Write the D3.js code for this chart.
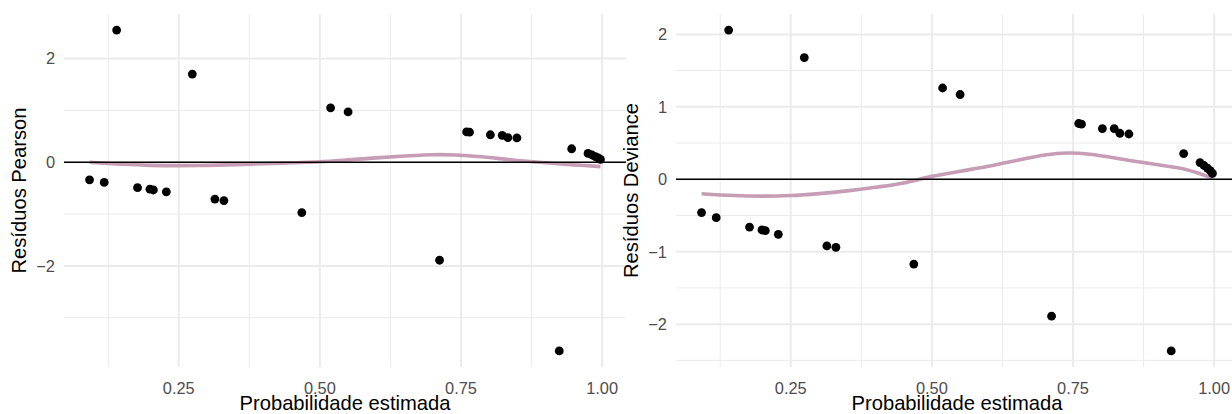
<!DOCTYPE html>
<html>
<head>
<meta charset="utf-8">
<script src="https://cdn.jsdelivr.net/npm/d3@7"></script>
<style>
  body { margin: 0; background: #fff; overflow: hidden; }
  svg { display: block; font-family: "Liberation Sans", Arial, sans-serif; }
</style>
</head>
<body>
<svg id="chart"></svg>
<script>
// probabilidade estimada (mesma para os dois painéis)
const probEstimada = [0.092, 0.118, 0.140, 0.177, 0.199, 0.205, 0.228, 0.274, 0.314, 0.330,
  0.468, 0.519, 0.550, 0.712, 0.760, 0.765, 0.802, 0.823, 0.833, 0.849,
  0.924, 0.946, 0.975, 0.982, 0.988, 0.993, 0.997];

const residPearson = [-0.34, -0.39, 2.55, -0.49, -0.52, -0.535, -0.57, 1.70, -0.71, -0.74,
  -0.97, 1.05, 0.97, -1.89, 0.585, 0.58, 0.53, 0.52, 0.475, 0.47,
  -3.64, 0.26, 0.17, 0.14, 0.11, 0.085, 0.055];

const residDeviance = [-0.46, -0.53, 2.06, -0.66, -0.70, -0.71, -0.76, 1.68, -0.92, -0.94,
  -1.17, 1.26, 1.17, -1.89, 0.77, 0.76, 0.70, 0.70, 0.635, 0.625,
  -2.37, 0.355, 0.23, 0.19, 0.155, 0.12, 0.08];

// curvas loess
const smoothX = [0.092, 0.15, 0.20, 0.25, 0.30, 0.35, 0.40, 0.45, 0.50, 0.55, 0.60, 0.65,
  0.70, 0.74, 0.78, 0.85, 0.90, 0.95, 0.997];
const smoothPearson = [0.00, -0.04, -0.06, -0.065, -0.06, -0.045, -0.03, -0.01, 0.01, 0.045,
  0.085, 0.12, 0.145, 0.14, 0.11, 0.035, -0.01, -0.05, -0.085];
const smoothDeviance = [-0.20, -0.225, -0.232, -0.225, -0.198, -0.16, -0.11, -0.05, 0.04, 0.11,
  0.18, 0.26, 0.335, 0.362, 0.345, 0.26, 0.20, 0.135, 0.015];

const xTicks = [0.25, 0.50, 0.75, 1.00];
const xMinor = [0.125, 0.375, 0.625, 0.875];
const pearsonTicks = [-2, 0, 2];
const pearsonMinor = [-3, -1, 1];
const devianceTicks = [-2, -1, 0, 1, 2];
const devianceMinor = [-2.5, -1.5, -0.5, 0.5, 1.5];

const W = 1232, H = 414;
const svg = d3.select("#chart").attr("width", W).attr("height", H);

const panelTop = 14, panelBottom = 367, panelW = 562;
const grid = "#ebebeb";
const lineColor = "#c69db4";

function expand(ext) {
  const d = (ext[1] - ext[0]) * 0.05;
  return [ext[0] - d, ext[1] + d];
}

const fmtY = v => (v < 0 ? "\u2212" + Math.abs(v) : String(v));

function painel(left, ys, smoothY, majorY, minorY, yTitle) {
  const x = d3.scaleLinear().domain(expand(d3.extent(probEstimada))).range([left, left + panelW]);
  const y = d3.scaleLinear().domain(expand(d3.extent(ys))).range([panelBottom, panelTop]);

  const g = svg.append("g");

  // grades
  g.append("g").selectAll("line").data(minorY).join("line")
    .attr("x1", left).attr("x2", left + panelW)
    .attr("y1", d => y(d)).attr("y2", d => y(d))
    .attr("stroke", grid).attr("stroke-width", 1);
  g.append("g").selectAll("line").data(xMinor).join("line")
    .attr("x1", d => x(d)).attr("x2", d => x(d))
    .attr("y1", panelTop).attr("y2", panelBottom)
    .attr("stroke", grid).attr("stroke-width", 1);
  g.append("g").selectAll("line").data(majorY).join("line")
    .attr("x1", left).attr("x2", left + panelW)
    .attr("y1", d => y(d)).attr("y2", d => y(d))
    .attr("stroke", grid).attr("stroke-width", 2);
  g.append("g").selectAll("line").data(xTicks).join("line")
    .attr("x1", d => x(d)).attr("x2", d => x(d))
    .attr("y1", panelTop).attr("y2", panelBottom)
    .attr("stroke", grid).attr("stroke-width", 2);

  // curva suavizada
  const line = d3.line()
    .x(d => x(d[0]))
    .y(d => y(d[1]))
    .curve(d3.curveCatmullRom.alpha(0.5));
  g.append("path")
    .datum(smoothX.map((v, i) => [v, smoothY[i]]))
    .attr("d", line)
    .attr("fill", "none")
    .attr("stroke", lineColor)
    .attr("stroke-width", 3.6);

  // linha em zero
  g.append("line")
    .attr("x1", left).attr("x2", left + panelW)
    .attr("y1", y(0)).attr("y2", y(0))
    .attr("stroke", "#000").attr("stroke-width", 1.6);

  // pontos
  g.append("g").selectAll("circle").data(probEstimada).join("circle")
    .attr("cx", d => x(d))
    .attr("cy", (d, i) => y(ys[i]))
    .attr("r", 4.4)
    .attr("fill", "#000");

  // rotulos dos eixos
  g.append("g").selectAll("text").data(majorY).join("text")
    .attr("x", left - 9)
    .attr("y", d => y(d))
    .attr("dy", "0.36em")
    .attr("text-anchor", "end")
    .attr("font-size", 16.4)
    .attr("fill", "#4d4d4d")
    .text(fmtY);
  g.append("g").selectAll("text").data(xTicks).join("text")
    .attr("x", d => x(d))
    .attr("y", 393.5)
    .attr("text-anchor", "middle")
    .attr("font-size", 16.4)
    .attr("fill", "#4d4d4d")
    .text(d => d.toFixed(2));

  g.append("text")
    .attr("x", left + panelW / 2)
    .attr("y", 409.5)
    .attr("text-anchor", "middle")
    .attr("font-size", 20.2)
    .attr("fill", "#000")
    .text("Probabilidade estimada");

  g.append("text")
    .attr("transform", "translate(" + (left - 38.5) + "," + ((panelTop + panelBottom) / 2) + ") rotate(-90)")
    .attr("text-anchor", "middle")
    .attr("font-size", 20.2)
    .attr("fill", "#000")
    .text(yTitle);
}

painel(64, residPearson, smoothPearson, pearsonTicks, pearsonMinor, "Resíduos Pearson");
painel(676, residDeviance, smoothDeviance, devianceTicks, devianceMinor, "Resíduos Deviance");
</script>
</body>
</html>
